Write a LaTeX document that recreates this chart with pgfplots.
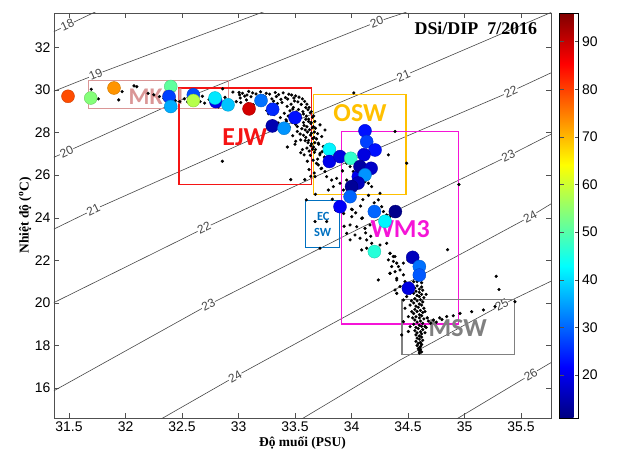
\documentclass[border=0pt]{standalone}
\usepackage{fontspec}
\setmainfont{Liberation Sans}
\newfontfamily\serifbf{Liberation Serif}
\newfontfamily\calib{Carlito}
\usepackage{pgfplots}
\usepackage{pgfplotstable}
\pgfplotsset{compat=1.18}
\pgfplotsset{/pgf/number format/assume math mode=true}
\definecolor{mkgi}{RGB}{218,150,150}
\definecolor{ejw}{RGB}{245,20,20}
\definecolor{osw}{RGB}{255,192,0}
\definecolor{wmc}{RGB}{245,20,215}
\definecolor{ecsw}{RGB}{0,112,192}
\definecolor{msw}{RGB}{128,128,128}
\definecolor{cont}{RGB}{70,70,70}
\definecolor{frm}{RGB}{80,80,80}

\pgfplotstableread{
S T
31.697 30.03
31.76 29.58
31.97 29.92
31.94 29.53
32.075 30.19
32.10 30.15
32.20 29.84
32.25 29.77
32.30 29.69
32.34 29.60
32.37 29.52
32.44 29.50
32.48 29.45
32.52 29.58
32.55 29.44
32.66 29.45
32.70 29.38
32.74 29.55
32.78 29.42
32.86 30.05
32.95 29.90
33.01 29.77
33.07 29.53
32.82 29.20
32.92 29.39
32.62 29.62
32.58 29.32
32.68 29.70
32.88 29.65
32.98 29.45
33.005 29.88
33.015 29.62
33.035 29.84
33.055 29.71
33.02 29.41
33.09 29.93
33.075 29.76
33.085 29.35
33.125 29.86
33.11 29.68
33.13 29.30
33.155 29.81
33.175 29.64
33.16 29.40
33.195 29.91
33.22 29.72
33.205 29.33
33.245 29.84
33.235 29.67
33.25 29.03
33.275 29.80
33.295 29.58
33.285 29.32
33.265 28.88
33.325 29.88
33.335 29.69
33.31 29.47
33.315 28.84
33.355 29.78
33.375 29.56
33.345 29.36
33.37 28.70
33.395 29.86
33.415 29.64
33.385 29.41
33.405 28.90
33.42 28.60
33.445 29.80
33.435 29.57
33.43 29.23
33.455 29.02
33.44 28.77
33.425 28.53
33.47 29.76
33.49 29.62
33.465 29.33
33.48 29.10
33.475 28.47
33.505 29.72
33.495 29.48
33.485 29.18
33.51 28.97
33.505 28.38
33.535 29.66
33.525 29.44
33.53 29.08
33.545 28.82
33.535 28.57
33.52 28.28
33.565 29.58
33.555 29.32
33.57 28.98
33.55 28.70
33.575 28.47
33.56 28.18
33.545 27.93
33.585 29.46
33.595 29.17
33.575 28.87
33.595 28.62
33.58 28.33
33.59 28.12
33.575 27.87
33.59 27.62
33.605 29.33
33.615 29.07
33.60 28.77
33.62 28.52
33.605 28.27
33.61 28.02
33.595 27.77
33.615 27.52
33.605 27.27
33.625 29.18
33.635 28.93
33.62 28.63
33.64 28.42
33.628 28.13
33.636 27.88
33.62 27.63
33.64 27.38
33.625 27.13
33.635 26.93
33.645 28.98
33.655 28.72
33.642 28.47
33.652 28.22
33.645 27.97
33.658 27.72
33.646 27.47
33.655 27.22
33.665 28.78
33.675 28.52
33.662 28.27
33.672 28.02
33.668 27.77
33.675 27.52
33.664 27.32
33.672 27.07
33.35 28.45
33.38 28.30
33.30 28.55
33.45 28.25
33.52 28.05
33.48 27.85
33.55 27.65
33.50 27.45
33.432 27.32
33.506 27.59
33.565 27.20
33.609 26.65
33.624 26.26
33.639 25.95
33.586 25.79
33.462 25.79
32.857 26.65
33.58 26.95
33.55 27.05
33.68 28.20
33.70 27.95
33.69 27.70
33.71 27.45
33.68 27.20
33.72 26.95
33.70 26.75
33.69 26.55
33.73 26.30
33.67 26.10
33.74 27.10
33.76 26.85
33.66 26.70
33.721 28.36
33.765 28.12
33.736 27.81
33.706 27.50
33.75 27.34
33.721 27.03
33.706 26.48
33.736 26.32
33.765 26.17
33.78 25.93
33.824 25.77
33.868 25.85
33.898 25.62
33.839 25.46
33.928 25.30
33.795 25.30
33.957 26.56
33.987 26.40
34.016 26.17
33.957 25.77
34.075 25.77
34.119 25.69
34.149 25.62
34.178 25.46
34.252 25.15
34.237 24.84
34.267 24.52
34.282 24.29
34.311 24.13
34.34 24.05
34.385 28.05
34.326 26.95
34.488 26.56
33.677 25.93
33.68 25.10
34.02 29.86
33.85 26.95
33.92 26.20
34.05 25.95
33.95 25.10
34.02 24.95
34.10 24.85
34.15 25.05
34.20 24.70
33.90 24.70
33.86 24.35
33.93 24.20
34.00 24.40
34.08 24.55
34.002 24.05
34.09 23.97
33.987 23.66
34.046 23.58
34.119 23.50
34.163 23.66
33.957 23.27
34.031 23.19
34.075 23.04
34.134 22.96
33.987 22.96
34.178 22.80
34.09 22.49
34.134 22.57
34.252 22.72
34.311 22.80
34.34 22.33
34.37 22.18
34.326 22.02
34.40 21.87
34.355 21.71
34.429 21.55
34.385 21.47
34.34 21.39
34.459 21.32
34.40 21.16
34.237 21.08
34.429 20.77
34.488 20.61
34.518 20.45
33.677 23.82
33.78 23.82
33.721 22.57
33.934 23.60
34.037 24.23
34.007 24.38
34.096 23.99
34.125 23.29
34.17 23.13
33.83 24.87
33.60 24.84
34.95 25.56
34.85 22.50
35.28 21.25
35.305 20.63
34.341 22.33
34.385 22.18
34.37 21.95
34.415 21.71
34.459 21.87
34.341 21.39
34.40 21.08
34.473 21.00
34.385 20.61
34.40 20.45
34.488 20.30
34.459 20.14
34.518 19.90
34.473 19.75
34.533 19.59
34.503 19.36
34.459 19.12
34.518 18.89
34.503 18.66
34.444 18.50
34.50 22.00
34.55 21.00
34.52 20.90
34.58 21.00
34.60 21.10
34.56 21.20
34.62 20.95
34.58 20.80
34.62 20.75
34.56 20.70
34.60 20.65
34.63 20.60
34.57 20.55
34.60 20.50
34.55 20.45
34.62 20.40
34.58 20.35
34.60 20.30
34.64 20.25
34.56 20.20
34.61 20.15
34.58 20.10
34.63 20.05
34.55 20.00
34.60 19.95
34.62 19.90
34.57 19.85
34.59 19.80
34.64 19.75
34.56 19.70
34.61 19.65
34.58 19.60
34.63 19.55
34.55 19.50
34.60 19.45
34.62 19.40
34.57 19.35
34.60 19.30
34.64 19.25
34.56 19.20
34.61 19.15
34.58 19.10
34.63 19.05
34.55 19.00
34.60 18.95
34.62 18.90
34.57 18.85
34.59 18.80
34.63 18.75
34.56 18.70
34.61 18.65
34.58 18.60
34.62 18.55
34.57 18.50
34.60 18.45
34.62 18.40
34.58 18.35
34.60 18.30
34.63 18.25
34.57 18.20
34.61 18.15
34.59 18.10
34.62 18.05
34.58 18.00
34.61 17.95
34.60 17.90
34.59 17.85
34.61 17.80
34.60 17.75
34.62 17.70
34.60 17.65
34.65 19.60
34.54 19.30
34.65 18.90
34.53 20.10
34.66 20.40
34.68 19.15
34.70 19.05
34.724 19.20
34.75 19.10
34.78 19.30
34.80 19.22
34.842 19.36
34.90 19.40
34.96 19.51
35.063 19.59
35.167 19.67
35.27 19.83
35.446 20.06
34.66 18.85
34.67 19.30
34.65 18.60
}\tabdots

\pgfplotstableread{
S T v
31.491 29.70 79
31.692 29.62 54
31.898 30.09 73
32.40 30.16 51
32.385 29.69 27
32.40 29.22 36
32.60 29.77 28
32.60 29.50 58
32.80 29.45 20
32.792 29.62 41
32.907 29.30 38
33.093 29.11 89
33.199 29.50 31
33.302 29.09 25
33.50 28.70 23
33.299 28.31 15
33.403 28.20 34
33.804 27.21 42
33.804 26.64 20
33.898 26.87 19
33.993 26.79 47
34.119 28.08 23
34.134 27.57 27
34.208 27.18 23
34.11 26.96 19
34.06 25.93 20
34.075 26.40 14
34.173 26.32 17
34.119 26.01 34
34.058 25.63 16
34.0 25.46 13
33.987 24.99 30
33.898 24.52 21
34.296 23.83 42
34.202 24.29 30
34.388 24.29 12
34.202 22.41 46
34.541 22.14 16
34.60 21.71 31
34.60 21.31 29
34.503 20.69 19
}\tabcirc

\begin{document}
\begin{tikzpicture}
\useasboundingbox (-54bp,-33bp) rectangle (565bp,418bp);
\begin{axis}[
  at={(0,0)}, anchor=south west,
  scale only axis, width=497bp, height=405bp,
  xmin=31.367, xmax=35.765, ymin=14.6, ymax=33.61,
  xtick={31.5,32,32.5,33,33.5,34,34.5,35,35.5},
  xticklabels={31.5,32,32.5,33,33.5,34,34.5,35,35.5},
  ytick={16,18,20,22,24,26,28,30,32},
  yticklabels={16,18,20,22,24,26,28,30,32},
  tick label style={font=\fontsize{14}{16}\selectfont},
  axis line style={frm}, every tick/.style={frm},
  major tick length=5bp,
  xlabel={\serifbf\bfseries Độ muối (PSU)},
  ylabel={\serifbf\bfseries Nhiệt độ (\textsuperscript{o}C)},
  label style={font=\fontsize{13.5}{15}\selectfont},
  xlabel style={at={(axis description cs:0.5,-0.062)},anchor=center},
  ylabel style={at={(axis description cs:-0.058,0.5)},anchor=center},
  colormap/jet,
  point meta min=11, point meta max=96,
  colorbar,
  colorbar style={
    width=19bp,
    at={([xshift=15bp]parent axis.north east)}, anchor=north west,
    ytick={20,30,40,50,60,70,80,90},
    yticklabels={20,30,40,50,60,70,80,90},
    yticklabel style={font=\fontsize{14}{16}\selectfont},
    major tick length=4bp,
    axis line style={black}
  },
]
% density contours
\addplot[cont, line width=0.6pt] coordinates {(31.30,32.57) (31.80,33.83)};
\addplot[cont, line width=0.6pt] coordinates {(31.30,29.80) (31.367,29.94) (31.736,30.72) (32.482,32.21) (33.196,33.615) (33.3,33.82)};
\addplot[cont, line width=0.6pt] coordinates {(31.30,26.69) (31.367,26.84) (31.479,27.10) (32.482,29.51) (34.223,33.19) (34.465,33.615) (34.6,33.9)};
\addplot[cont, line width=0.6pt] coordinates {(31.30,23.33) (31.367,23.47) (31.715,24.37) (33.078,27.59) (34.459,30.66) (35.757,33.615) (35.8,33.7)};
\addplot[cont, line width=0.6pt] coordinates {(31.30,19.85) (31.367,20.02) (32.695,23.51) (34.052,26.84) (35.409,29.92) (35.765,30.80) (35.8,30.88)};
\addplot[cont, line width=0.6pt] coordinates {(31.30,15.72) (31.367,15.88) (32.733,19.91) (34.06,23.47) (35.388,26.90) (35.765,27.92) (35.8,28.0)};
\addplot[cont, line width=0.6pt] coordinates {(32.30,14.51) (32.35,14.66) (32.969,16.54) (34.273,20.31) (35.58,24.05) (35.765,24.65) (35.8,24.75)};
\addplot[cont, line width=0.6pt] coordinates {(33.50,14.36) (33.574,14.60) (34.429,17.32) (35.329,19.91) (35.765,21.02) (35.8,21.1)};
\addplot[cont, line width=0.6pt] coordinates {(34.90,14.46) (34.96,14.65) (35.586,16.64) (35.765,17.20) (35.8,17.3)};
\tikzset{cl/.style={fill=white, inner sep=0.6bp, text=cont, font=\fontsize{12}{12}\selectfont}}
\node[cl, rotate=25] at (axis cs:31.485,33.04) {18};
\node[cl, rotate=23] at (axis cs:31.736,30.72) {19};
\node[cl, rotate=25] at (axis cs:31.479,27.10) {20};
\node[cl, rotate=21] at (axis cs:34.223,33.19) {20};
\node[cl, rotate=26] at (axis cs:31.715,24.37) {21};
\node[cl, rotate=23] at (axis cs:34.459,30.66) {21};
\node[cl, rotate=26] at (axis cs:32.695,23.51) {22};
\node[cl, rotate=24] at (axis cs:35.409,29.92) {22};
\node[cl, rotate=28] at (axis cs:32.733,19.91) {23};
\node[cl, rotate=26] at (axis cs:35.388,26.90) {23};
\node[cl, rotate=30] at (axis cs:32.969,16.54) {24};
\node[cl, rotate=28] at (axis cs:35.58,24.05) {24};
\node[cl, rotate=28] at (axis cs:35.329,19.91) {25};
\node[cl, rotate=32] at (axis cs:35.586,16.64) {26};
% water mass boxes
\draw[mkgi, line width=1.3pt] (axis cs:31.671,29.12) rectangle (axis cs:32.91,30.44);
\draw[ejw, line width=1.3pt] (axis cs:32.473,25.56) rectangle (axis cs:33.647,30.09);
\draw[osw, line width=1.3pt] (axis cs:33.662,25.09) rectangle (axis cs:34.482,29.78);
\draw[wmc, line width=1.3pt] (axis cs:33.91,19.01) rectangle (axis cs:34.945,28.06);
\draw[ecsw, line width=1.3pt] (axis cs:33.594,22.61) rectangle (axis cs:33.895,24.80);
\draw[msw, line width=1.3pt] (axis cs:34.447,17.57) rectangle (axis cs:35.44,20.16);
\node[text=ejw, font=\calib\bfseries\fontsize{26}{26}\selectfont] at (axis cs:33.055,27.79) {EJW};
\node[text=osw, font=\calib\bfseries\fontsize{26}{26}\selectfont] at (axis cs:34.075,28.92) {OSW};
\node[text=ecsw, font=\calib\bfseries\fontsize{12.5}{12.5}\selectfont] at (axis cs:33.75,24.04) {EC};
\node[text=ecsw, font=\calib\bfseries\fontsize{12.5}{12.5}\selectfont] at (axis cs:33.745,23.29) {SW};
% CTD points
\addplot[only marks, mark=*, mark size=1.4pt, black] table[x=S,y=T] {\tabdots};
\node[text=msw, font=\calib\bfseries\fontsize{26}{26}\selectfont] at (axis cs:34.94,18.83) {MSW};
% DSi/DIP samples
\addplot[scatter, only marks, mark=*, mark size=6.5pt, scatter src=explicit] table[x=S,y=T,meta=v] {\tabcirc};
\node[text=mkgi, font=\calib\bfseries\fontsize{24}{24}\selectfont] at (axis cs:32.27,29.70) {MKGI};
\node[text=wmc, font=\calib\bfseries\fontsize{26}{26}\selectfont] at (axis cs:34.43,23.47) {WM3};
\node[font=\serifbf\bfseries\fontsize{18}{20}\selectfont] at (axis cs:35.1,32.91) {DSi/DIP\ \ 7/2016};
\end{axis}
\end{tikzpicture}
\end{document}
